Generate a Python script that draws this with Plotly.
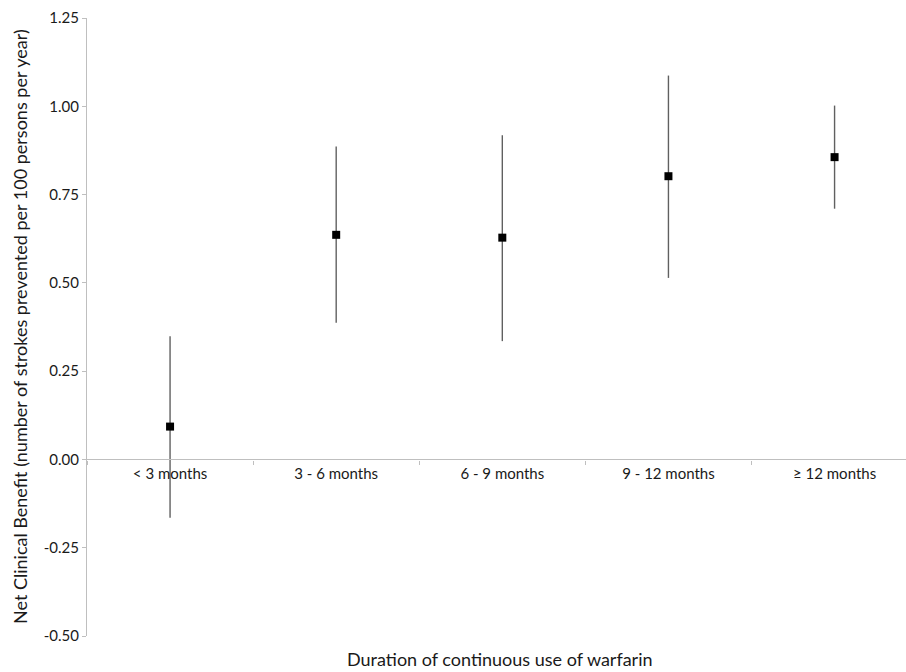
import plotly.graph_objects as go

categories = ["< 3 months", "3 - 6 months", "6 - 9 months", "9 - 12 months", "\u2265 12 months"]
net_benefit = [0.093, 0.636, 0.628, 0.802, 0.856]
ci_upper = [0.349, 0.886, 0.918, 1.087, 1.002]
ci_lower = [-0.165, 0.387, 0.335, 0.514, 0.710]
y_ticks = [-0.50, -0.25, 0.00, 0.25, 0.50, 0.75, 1.00, 1.25]

err_plus = [u - v for u, v in zip(ci_upper, net_benefit)]
err_minus = [v - l for v, l in zip(net_benefit, ci_lower)]

FONT = "Lato"
y_min, y_max = -0.5, 1.25

fig = go.Figure()
fig.add_trace(go.Scatter(
    x=categories, y=net_benefit, mode="markers",
    marker=dict(symbol="square", size=8, color="black"),
    error_y=dict(type="data", symmetric=False, array=err_plus, arrayminus=err_minus,
                 width=0, thickness=1.4, color="#606060"),
    showlegend=False,
))

fig.update_layout(
    width=906, height=672,
    margin=dict(l=87, r=0, t=18, b=36),
    plot_bgcolor="white", paper_bgcolor="white",
    font=dict(family=FONT, size=15, color="#1a1a1a"),
    xaxis=dict(
        type="category", range=[-0.5, 4.43],
        anchor="free", position=(0 - y_min) / (y_max - y_min),
        showline=True, linecolor="#bfbfbf", linewidth=1.2,
        ticks="outside", tickson="boundaries", ticklen=4, tickcolor="#bfbfbf",
        showgrid=False, zeroline=False,
        tickfont=dict(family=FONT, size=15, color="#1a1a1a"),
    ),
    yaxis=dict(
        range=[y_min, y_max], tickvals=y_ticks,
        ticktext=[f"{v:.2f}" for v in y_ticks],
        showline=True, linecolor="#bfbfbf", linewidth=1.2,
        ticks="outside", ticklen=4, tickcolor="#bfbfbf",
        showgrid=False, zeroline=False,
        tickfont=dict(family=FONT, size=15, color="#1a1a1a"),
    ),
    annotations=[
        dict(text="Net Clinical Benefit (number of strokes prevented per 100 persons per year)",
             xref="paper", yref="paper", x=-0.0818, y=0.5, textangle=-90,
             xanchor="center", yanchor="middle", showarrow=False,
             font=dict(family=FONT, size=18, color="#1a1a1a")),
        dict(text="Duration of continuous use of warfarin",
             xref="paper", yref="paper", x=0.504, y=-0.037,
             xanchor="center", yanchor="middle", showarrow=False,
             font=dict(family=FONT, size=18, color="#1a1a1a")),
    ],
)

fig.write_html("out.html", config={"displayModeBar": False},
               post_script="document.body.style.margin='0';")
